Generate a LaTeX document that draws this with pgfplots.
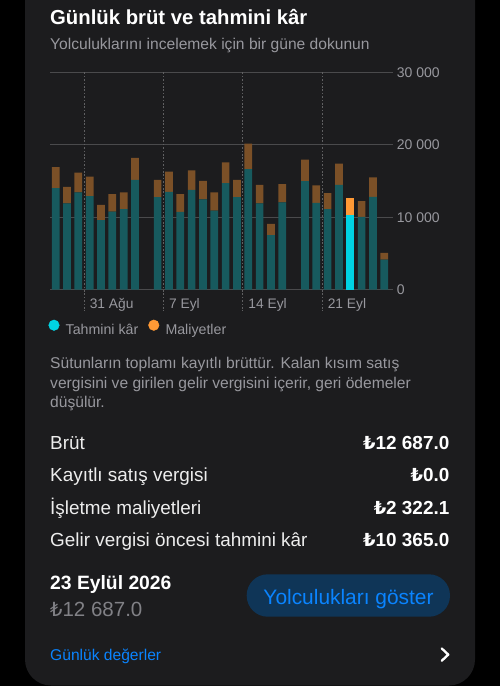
\documentclass[border=0pt]{standalone}
\usepackage{pgfplots}
\pgfplotsset{compat=1.18}
\usepackage{fontspec}
\setmainfont{Liberation Sans}
\newfontfamily\lirafont[Scale=0.95]{DejaVu Sans}
\newcommand{\TL}{{\lirafont ₺}}
\newcommand{\fs}[1]{\fontsize{#1}{#1}\selectfont}
\definecolor{card}{HTML}{1C1C1E}
\definecolor{teal1}{HTML}{175A5E}
\definecolor{brown1}{HTML}{7B5027}
\definecolor{cyanc}{HTML}{00D3E3}
\definecolor{orangec}{HTML}{FF9935}
\definecolor{gridc}{HTML}{4A4A4C}
\definecolor{dashc}{HTML}{606062}
\definecolor{labc}{HTML}{98989E}
\definecolor{rowc}{HTML}{EDEDED}
\definecolor{bluec}{HTML}{0A84FF}
\definecolor{btnc}{HTML}{0F3557}

\pgfplotstableread{
x prof hprof cost hcost
0 14030 0 2900 0
1 11900 0 2300 0
2 13420 0 2720 0
3 12920 0 2670 0
4 9600 0 2115 0
5 10790 0 2405 0
6 11120 0 2295 0
7 15170 0 3005 0
9 12780 0 2390 0
10 13510 0 2770 0
11 10750 0 2445 0
12 13790 0 2670 0
13 12450 0 2585 0
14 10925 0 2490 0
15 14715 0 2850 0
16 12780 0 2390 0
17 16650 0 3500 0
18 11900 0 2580 0
19 7525 0 1565 0
20 12035 0 2545 0
22 14990 0 2950 0
23 11990 0 2395 0
24 11120 0 2210 0
25 14480 0 2905 0
26 0 10365 0 2322.1
27 10055 0 2170 0
28 12820 0 2670 0
29 4150 0 925 0
}\daily

\begin{document}
\begin{tikzpicture}[x=1pt,y=1pt]
\useasboundingbox (0,0) rectangle (500,-686);
\clip (0,0) rectangle (500,-686);
\fill[black] (0,0) rectangle (500,-686);
\fill[card, rounded corners=26pt] (25,40) rectangle (475,-685.5);

\node[anchor=base west, inner sep=0pt, text=white, font=\fs{20.3}\bfseries] at (50,-24) {Günlük brüt ve tahmini kâr};
\node[anchor=base west, inner sep=0pt, text=labc, font=\fs{15.6}] at (50,-49) {Yolculuklarını incelemek için bir güne dokunun};

\begin{axis}[
  at={(50pt,-289.7pt)}, anchor=south west,
  scale only axis, width=343pt, height=217.4pt,
  xmin=-0.5, xmax=29.77, ymin=0, ymax=30000,
  ybar stacked, bar width=7.7pt,
  axis line style={draw=none},
  major tick length=0pt,
  scaled y ticks=false,
  /pgf/number format/assume math mode=true,
  ymajorgrids, grid style={color=gridc, line width=0.8pt},
  ytick={0,10000,20000,30000}, yticklabels={0,10 000,20 000,30 000},
  yticklabel pos=right,
  yticklabel style={anchor=west, inner sep=0pt, xshift=3.7pt, font=\fs{14}, text=labc},
  xtick={2.5,9.5,16.5,23.5}, xticklabels={31 Ağu,7 Eyl,14 Eyl,21 Eyl},
  xticklabel style={anchor=base west, inner sep=0pt, xshift=5.6pt, yshift=-18.6pt, font=\fs{13.8}, text=labc},
  clip=false,
  legend columns=-1,
  legend style={draw=none, fill=none, inner sep=0pt, outer sep=0pt,
    at={(0,0)}, anchor=north west, xshift=-1.5pt, yshift=-30pt,
    font=\fs{14.2}, text=labc, nodes={inner sep=0pt, outer sep=0pt},
    /tikz/every odd column/.append style={column sep=6.2pt},
    /tikz/every even column/.append style={column sep=10pt}},
]
\draw[dashc, line width=0.8pt, dash pattern=on 1.6pt off 1.8pt] (axis cs:2.5,30000) -- (axis cs:2.5,-2950);
\draw[dashc, line width=0.8pt, dash pattern=on 1.6pt off 1.8pt] (axis cs:9.5,30000) -- (axis cs:9.5,-2950);
\draw[dashc, line width=0.8pt, dash pattern=on 1.6pt off 1.8pt] (axis cs:16.5,30000) -- (axis cs:16.5,-2950);
\draw[dashc, line width=0.8pt, dash pattern=on 1.6pt off 1.8pt] (axis cs:23.5,30000) -- (axis cs:23.5,-2950);
\addplot[fill=teal1, draw=none, forget plot] table[x=x, y=prof] {\daily};
\addplot[fill=cyanc, draw=none, forget plot] table[x=x, y=hprof] {\daily};
\addplot[fill=brown1, draw=none, forget plot] table[x=x, y=cost] {\daily};
\addplot[fill=orangec, draw=none, forget plot] table[x=x, y=hcost] {\daily};
\addlegendimage{legend image code/.code={\fill[cyanc] (5.3pt,4.7pt) circle (5.3pt);}}
\addlegendentry{Tahmini kâr}
\addlegendimage{legend image code/.code={\fill[orangec] (5.3pt,4.7pt) circle (5.3pt);}}
\addlegendentry{Maliyetler}
\end{axis}

\node[anchor=base west, inner sep=0pt, text=labc, font=\fs{15.6}] at (50,-368.3) {Sütunların toplamı kayıtlı brüttür. Kalan kısım satış};
\node[anchor=base west, inner sep=0pt, text=labc, font=\fs{15.6}] at (50,-388.3) {vergisini ve girilen gelir vergisini içerir, geri ödemeler};
\node[anchor=base west, inner sep=0pt, text=labc, font=\fs{15.6}] at (50,-407.8) {düşülür.};

\node[anchor=base west, inner sep=0pt, text=rowc, font=\fs{18.9}] at (50,-449.3) {Brüt};
\node[anchor=base west, inner sep=0pt, text=rowc, font=\fs{18.9}] at (50,-481.7) {Kayıtlı satış vergisi};
\node[anchor=base west, inner sep=0pt, text=rowc, font=\fs{18.9}] at (50,-514.3) {İşletme maliyetleri};
\node[anchor=base west, inner sep=0pt, text=rowc, font=\fs{18.9}] at (50,-546.7) {Gelir vergisi öncesi tahmini kâr};
\node[anchor=base east, inner sep=0pt, text=white, font=\fs{18.9}\bfseries] at (449.5,-449.3) {\TL12 687.0};
\node[anchor=base east, inner sep=0pt, text=white, font=\fs{18.9}\bfseries] at (449.5,-481.7) {\TL0.0};
\node[anchor=base east, inner sep=0pt, text=white, font=\fs{18.9}\bfseries] at (449.5,-514.3) {\TL2 322.1};
\node[anchor=base east, inner sep=0pt, text=white, font=\fs{18.9}\bfseries] at (449.5,-546.7) {\TL10 365.0};

\node[anchor=base west, inner sep=0pt, text=white, font=\fs{19.3}\bfseries] at (50,-589) {23 Eylül 2026};
\node[anchor=base west, inner sep=0pt, text=labc!85!black, font=\fs{20.5}] at (50,-616) {\TL12 687.0};

\fill[btnc, rounded corners=21pt] (246.7,-574.3) rectangle (450,-616.7);
\node[anchor=base, inner sep=0pt, text=bluec, font=\fs{20.9}] at (348.5,-604) {Yolculukları göster};

\node[anchor=base west, inner sep=0pt, text=bluec, font=\fs{15.6}] at (50,-660) {Günlük değerler};
\draw[white, line width=2.3pt, line cap=round, line join=round] (441.8,-648.5) -- (448.3,-654.6) -- (441.8,-660.7);
\end{tikzpicture}
\end{document}
